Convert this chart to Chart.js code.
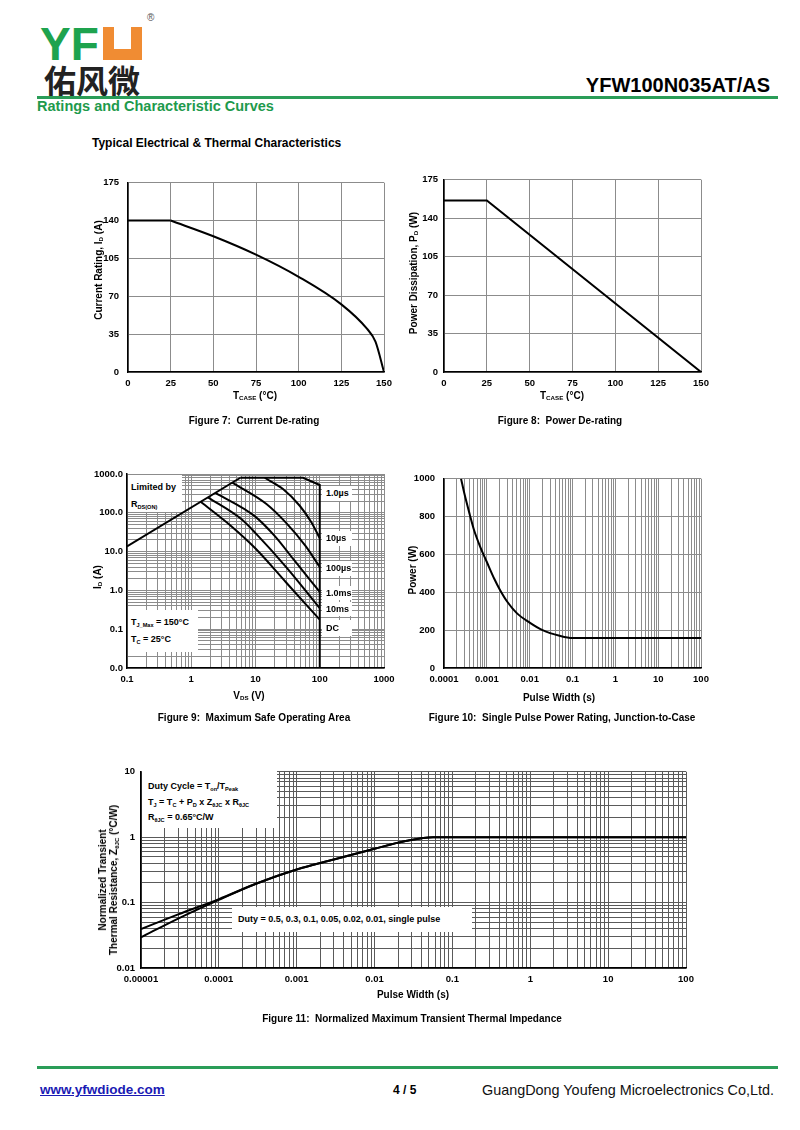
<!DOCTYPE html>
<html>
<head>
<meta charset="utf-8">
<script src="https://cdn.jsdelivr.net/npm/chart.js@4.4.1/dist/chart.umd.min.js"></script>
<style>
body { margin: 0; width: 800px; height: 1130px; position: relative; background: #fff; overflow: hidden;
       font-family: "Liberation Sans", Arial, sans-serif; color: #000; }
.abs { position: absolute; white-space: nowrap; }
canvas { position: absolute; }
.ttl { font-weight: bold; font-size: 10px; line-height: 11px; transform: translate(-50%, -50%); }
.rot { transform: translate(-50%, -50%) rotate(-90deg); text-align: center; }
sub { font-size: 62%; vertical-align: -0.3em; line-height: 0; }
.note { background: #fff; font-weight: bold; font-size: 9px; z-index: 5; box-sizing: border-box; }
</style>
</head>
<body>

<!-- header -->
<div class="abs" style="left:40px;top:21px;font:bold 46px/46px 'Liberation Sans',Arial;color:#1ea34e;">YF</div>
<div class="abs" style="left:103px;top:27px;width:39px;height:33px;background:#f08c33;"></div>
<div class="abs" style="left:114px;top:27px;width:17px;height:22px;background:#fff;"></div>
<div class="abs" style="left:147px;top:12px;font-size:10px;color:#555;">®</div>
<div class="abs" style="left:44px;top:63px;font:bold 32px/32px 'Noto Sans CJK SC';color:#222;">佑风微</div>
<div class="abs" style="right:30px;top:75px;font:bold 20px/20px 'Liberation Sans',Arial;">YFW100N035AT/AS</div>
<div class="abs" style="left:37px;top:96px;width:741px;height:3px;background:#2a9d58;"></div>
<div class="abs" style="left:37px;top:99px;font:bold 14.5px/14px 'Liberation Sans',Arial;color:#1e9a4c;">Ratings and Characteristic Curves</div>
<div class="abs" style="left:92px;top:137px;font:bold 12px/12px 'Liberation Sans',Arial;">Typical Electrical &amp; Thermal Characteristics</div>

<canvas id="fig7"></canvas>
<canvas id="fig8"></canvas>
<canvas id="fig9"></canvas>
<canvas id="fig10"></canvas>
<canvas id="fig11"></canvas>

<!-- figure 7 -->
<div class="abs ttl" style="left:255px;top:395px;">T<sub>CASE</sub> (°C)</div>
<div class="abs ttl rot" style="left:98px;top:270px;">Current Rating, I<sub>D</sub> (A)</div>
<div class="abs ttl" style="left:254px;top:420px;">Figure 7:&nbsp; Current De-rating</div>

<!-- figure 8 -->
<div class="abs ttl" style="left:562px;top:395px;">T<sub>CASE</sub> (°C)</div>
<div class="abs ttl rot" style="left:413px;top:273px;">Power Dissipation, P<sub>D</sub> (W)</div>
<div class="abs ttl" style="left:560px;top:420px;">Figure 8:&nbsp; Power De-rating</div>

<!-- figure 9 -->
<div class="abs ttl" style="left:249px;top:695px;">V<sub>DS</sub> (V)</div>
<div class="abs ttl rot" style="left:97px;top:577px;">I<sub>D</sub> (A)</div>
<div class="abs ttl" style="left:254px;top:717px;">Figure 9:&nbsp; Maximum Safe Operating Area</div>
<div class="abs note" style="left:128px;top:475px;width:54px;height:37px;padding:4px 0 0 3px;line-height:17px;">Limited by<br>R<sub>DS(ON)</sub></div>
<div class="abs note" style="left:128px;top:610px;width:70px;height:42px;padding:4px 0 0 3px;line-height:16.5px;">T<sub>J_Max</sub> = 150°C<br>T<sub>C</sub> = 25°C</div>
<div class="abs note" style="left:322px;top:486px;width:30px;height:15px;line-height:15px;padding-left:4px;">1.0µs</div>
<div class="abs note" style="left:322px;top:531px;width:30px;height:15px;line-height:15px;padding-left:4px;">10µs</div>
<div class="abs note" style="left:322px;top:561px;width:30px;height:15px;line-height:15px;padding-left:4px;">100µs</div>
<div class="abs note" style="left:322px;top:586px;width:30px;height:14px;line-height:14px;padding-left:4px;">1.0ms</div>
<div class="abs note" style="left:322px;top:602px;width:30px;height:14px;line-height:14px;padding-left:4px;">10ms</div>
<div class="abs note" style="left:322px;top:620px;width:30px;height:16px;line-height:16px;padding-left:4px;">DC</div>

<!-- figure 10 -->
<div class="abs ttl" style="left:559px;top:697px;">Pulse Width (s)</div>
<div class="abs ttl rot" style="left:412px;top:570px;">Power (W)</div>
<div class="abs ttl" style="left:562px;top:717px;">Figure 10:&nbsp; Single Pulse Power Rating, Junction-to-Case</div>

<!-- figure 11 -->
<div class="abs ttl" style="left:413px;top:994px;">Pulse Width (s)</div>
<div class="abs ttl rot" style="left:108px;top:880px;">Normalized Transient<br>Thermal Resistance, Z<sub>θJC</sub> (°C/W)</div>
<div class="abs ttl" style="left:412px;top:1018px;">Figure 11:&nbsp; Normalized Maximum Transient Thermal Impedance</div>
<div class="abs note" style="left:142px;top:771px;width:135px;height:57px;padding:8px 0 0 6px;line-height:15.5px;">Duty Cycle = T<sub>on</sub>/T<sub>Peak</sub><br>T<sub>J</sub> = T<sub>C</sub> + P<sub>D</sub> x Z<sub>θJC</sub> x R<sub>θJC</sub><br>R<sub>θJC</sub> = 0.65°C/W</div>
<div class="abs note" style="left:232px;top:907px;width:240px;height:25px;line-height:25px;padding-left:6px;">Duty = 0.5, 0.3, 0.1, 0.05, 0.02, 0.01, single pulse</div>

<!-- footer -->
<div class="abs" style="left:37px;top:1066px;width:741px;height:3px;background:#2a9d58;"></div>
<div class="abs" style="left:40px;top:1083px;font:bold 13.5px/13px 'Liberation Sans',Arial;color:#1a1ab4;text-decoration:underline;">www.yfwdiode.com</div>
<div class="abs" style="left:393px;top:1084px;font:bold 12px/12px 'Liberation Sans',Arial;">4 / 5</div>
<div class="abs" style="left:482px;top:1083px;font:14.4px/14px 'Liberation Sans',Arial;color:#111;">GuangDong Youfeng Microelectronics Co,Ltd.</div>

<script>
// Figure 7: current de-rating
const fig7_temp = [0, 25, 50, 75, 100, 125, 140, 145, 150];
const fig7_current = [140, 140, 125.5, 108.5, 88, 62.5, 40, 28, 0];
const derate_xTicks = [0, 25, 50, 75, 100, 125, 150];
const derate_xLabels = ["0", "25", "50", "75", "100", "125", "150"];
const derate_yTicks = [0, 35, 70, 105, 140, 175];
const derate_yLabels = ["0", "35", "70", "105", "140", "175"];

// Figure 8: power de-rating
const fig8_temp = [0, 25, 150];
const fig8_power = [156, 156, 0];

// Figure 9: safe operating area
const soa_rds_v = [0.1, 5.8];
const soa_rds_i = [13.7, 800];
const soa_1us_v = [5.8, 55, 100, 100];
const soa_1us_i = [800, 800, 520, 0.01];
const soa_10us_v = [13.9, 26.8, 48.8, 74, 100];
const soa_10us_i = [800, 410, 152, 57, 22];
const soa_100us_v = [4.36, 14.8, 30, 60, 100];
const soa_100us_i = [600, 169, 55, 14, 4];
const soa_1ms_v = [2.38, 9.8, 20, 40, 100];
const soa_1ms_i = [326, 81, 25, 6, 0.91];
const soa_10ms_v = [1.82, 6, 10, 30, 100];
const soa_10ms_i = [250, 69, 30, 4, 0.35];
const soa_dc_v = [1.4, 4.2, 10, 30, 100];
const soa_dc_i = [192, 45, 12, 1.6, 0.176];
const soa_xTicks = [0.1, 1, 10, 100, 1000];
const soa_xLabels = ["0.1", "1", "10", "100", "1000"];
const soa_yTicks = [0.01, 0.1, 1, 10, 100, 1000];
const soa_yLabels = ["0.0", "0.1", "1.0", "10.0", "100.0", "1000.0"];

// Figure 10: single pulse power
const spp_width = [0.00025, 0.0003, 0.0004, 0.0005, 0.0007, 0.001, 0.0015, 0.002, 0.003, 0.005, 0.01, 0.02, 0.05, 0.1, 1, 10, 100];
const spp_power = [1000, 920, 810, 730, 640, 560, 470, 415, 350, 290, 240, 200, 170, 158, 158, 158, 158];
const spp_xTicks = [0.0001, 0.001, 0.01, 0.1, 1, 10, 100];
const spp_xLabels = ["0.0001", "0.001", "0.01", "0.1", "1", "10", "100"];
const spp_yTicks = [0, 200, 400, 600, 800, 1000];
const spp_yLabels = ["0", "200", "400", "600", "800", "1000"];

// Figure 11: transient thermal impedance
const zth_t = [0.00001, 0.00003, 0.0001, 0.0003, 0.001, 0.003, 0.01, 0.025, 0.0565, 100];
const zth_duty = [0.0395, 0.066, 0.113, 0.194, 0.32, 0.455, 0.665, 0.87, 1.0, 1.0];
const zth_single = [0.0295, 0.057, 0.11, 0.194, 0.32, 0.455, 0.665, 0.87, 1.0, 1.0];
const zth_xTicks = [0.00001, 0.0001, 0.001, 0.01, 0.1, 1, 10, 100];
const zth_xLabels = ["0.00001", "0.0001", "0.001", "0.01", "0.1", "1", "10", "100"];
const zth_yTicks = [0.01, 0.1, 1, 10];
const zth_yLabels = ["0.01", "0.1", "1", "10"];

// layout
const YW = 50, XH = 24, PT = 10, PR = 26;
const FONT = "'Liberation Sans', Arial, sans-serif";
const tickFont = { family: FONT, size: 9.5, weight: 'bold' };

// gridlines for a log axis: 1..9 in every decade
function logGrid(decades) {
    const out = [];
    for (let i = 0; i < decades.length - 1; i++) {
        for (let m = 1; m < 10; m++) out.push(decades[i] * m);
    }
    out.push(decades[decades.length - 1]);
    return out;
}

function makeAxis(type, ticks, labels, pad, gridColor) {
    const find = v => ticks.findIndex(t => Math.abs(t - v) <= Math.abs(t) * 1e-6);
    const gridVals = type === 'logarithmic' ? logGrid(ticks) : ticks;
    return {
        type,
        min: ticks[0],
        max: ticks[ticks.length - 1],
        afterBuildTicks: s => { s.ticks = gridVals.map(v => ({ value: v })); },
        afterFit: s => { if (s.isHorizontal()) s.height = XH; else s.width = YW; },
        ticks: {
            autoSkip: false, maxRotation: 0, padding: pad, color: '#000', font: tickFont,
            callback: v => { const i = find(v); return i < 0 ? '' : labels[i]; }
        },
        grid: { color: gridColor, lineWidth: 1, drawTicks: false },
        border: { color: '#000', width: 1.5 }
    };
}

function line(xs, ys, extra) {
    return Object.assign({
        data: xs.map((x, i) => ({ x, y: ys[i] })),
        borderColor: '#000', borderWidth: 2, pointRadius: 0, fill: false, tension: 0
    }, extra || {});
}

function drawChart(id, area, xAxis, yAxis, datasets) {
    const c = document.getElementById(id);
    c.width = YW + area.r - area.l + PR;
    c.height = PT + area.b - area.t + XH;
    c.style.left = (area.l - YW) + 'px';
    c.style.top = (area.t - PT) + 'px';
    return new Chart(c, {
        type: 'line',
        data: { datasets },
        options: {
            responsive: false, animation: false, devicePixelRatio: 1,
            layout: { padding: { left: 0, top: PT, right: PR, bottom: 0 } },
            plugins: { legend: { display: false }, tooltip: { enabled: false } },
            scales: { x: xAxis, y: yAxis }
        }
    });
}

const smooth = { cubicInterpolationMode: 'monotone' };

// flat part drawn straight, the falling part smoothed
drawChart('fig7', { l: 128, t: 178, r: 384, b: 372 },
    makeAxis('linear', derate_xTicks, derate_xLabels, 6, '#8c8c8c'),
    makeAxis('linear', derate_yTicks, derate_yLabels, 9, '#8c8c8c'),
    [line(fig7_temp.slice(0, 2), fig7_current.slice(0, 2)),
     line(fig7_temp.slice(1), fig7_current.slice(1), smooth)]);

drawChart('fig8', { l: 444, t: 178, r: 701, b: 372 },
    makeAxis('linear', derate_xTicks, derate_xLabels, 6, '#8c8c8c'),
    makeAxis('linear', derate_yTicks, derate_yLabels, 6, '#8c8c8c'),
    [line(fig8_temp, fig8_power)]);

drawChart('fig9', { l: 127, t: 474, r: 384, b: 668 },
    makeAxis('logarithmic', soa_xTicks, soa_xLabels, 6, '#8c8c8c'),
    makeAxis('logarithmic', soa_yTicks, soa_yLabels, 4, '#8c8c8c'),
    [line(soa_rds_v, soa_rds_i),
     line(soa_1us_v, soa_1us_i),
     line(soa_10us_v, soa_10us_i, smooth),
     line(soa_100us_v, soa_100us_i, smooth),
     line(soa_1ms_v, soa_1ms_i, smooth),
     line(soa_10ms_v, soa_10ms_i, smooth),
     line(soa_dc_v, soa_dc_i, smooth)]);

drawChart('fig10', { l: 444, t: 474, r: 701, b: 668 },
    makeAxis('logarithmic', spp_xTicks, spp_xLabels, 6, '#8c8c8c'),
    makeAxis('linear', spp_yTicks, spp_yLabels, 9, '#8c8c8c'),
    [line(spp_width, spp_power, smooth)]);

drawChart('fig11', { l: 141, t: 770, r: 686, b: 968 },
    makeAxis('logarithmic', zth_xTicks, zth_xLabels, 6, '#5a5a5a'),
    makeAxis('logarithmic', zth_yTicks, zth_yLabels, 6, '#5a5a5a'),
    [line(zth_t, zth_duty, smooth), line(zth_t, zth_single, smooth)]);
</script>
</body>
</html>
